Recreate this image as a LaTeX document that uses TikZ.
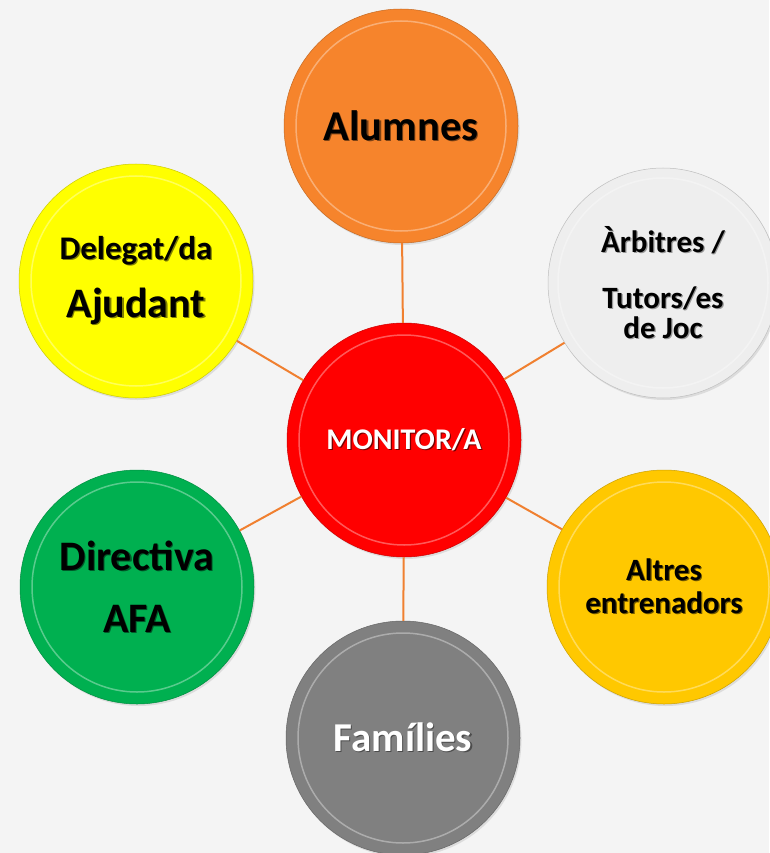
\documentclass[tikz,border=0pt]{standalone}
\usepackage{fontspec}
\setmainfont{Carlito}
\usetikzlibrary{shadows}

\definecolor{bgcol}{HTML}{F4F4F4}
\definecolor{linkcol}{RGB}{240,128,48}
\definecolor{alumcol}{RGB}{246,132,44}
\definecolor{arbcol}{RGB}{238,238,238}
\definecolor{altcol}{RGB}{255,200,0}
\definecolor{famcol}{RGB}{128,128,128}
\definecolor{dircol}{RGB}{0,176,80}
\definecolor{delcol}{RGB}{255,255,0}

% text with a small shadow
\newcommand\shtext[2]{\makebox[0pt][l]{\kern1.2pt\raisebox{-1.4pt}{\textcolor{#1}{#2}}}#2}

\begin{document}
\begin{tikzpicture}[x=1pt,y=-1pt,
    ball/.style={circle, minimum size=234pt, inner sep=0pt, fill=#1,
      draw=#1!80!black, line width=0.5pt, align=center,
      drop shadow={opacity=0.2, shadow xshift=1.5pt, shadow yshift=-2pt},
      path picture={
        \draw[white, opacity=0.35, line width=1.5pt] (path picture bounding box.center) circle (105pt);
      }},
    link/.style={draw=linkcol, line width=2pt}]
  \path[use as bounding box, fill=bgcol] (0,0) rectangle (769,853);

  % centre
  \node[ball=red, text=white, font=\bfseries\fontsize{30}{34}\selectfont] (monitor) at (404,440)
    {\shtext{red!45!black}{MONITOR/A}};

  % around
  \node[ball=alumcol, font=\bfseries\fontsize{42.5}{48}\selectfont] (alumnes) at (401,126)
    {\shtext{alumcol!50!black}{Alumnes}};
  \node[ball=arbcol, minimum size=230pt, font=\bfseries\fontsize{31}{30}\selectfont] (arbitres) at (663,283)
    {\shtext{black!40}{Àrbitres /}\\[26pt]\shtext{black!40}{Tutors/es}\\\shtext{black!40}{de Joc}};
  \node[ball=altcol, font=\bfseries\fontsize{31}{33}\selectfont] (altres) at (664,587)
    {\shtext{altcol!45!black}{Altres}\\\shtext{altcol!45!black}{entrenadors}};
  \node[ball=famcol, text=white, font=\bfseries\fontsize{41}{46}\selectfont] (families) at (403,738)
    {\shtext{black!70}{Famílies}};
  \node[ball=dircol, font=\bfseries\fontsize{42}{62}\selectfont] (directiva) at (137,587)
    {\shtext{dircol!50!black}{Directiva}\\\shtext{dircol!50!black}{AFA}};
  \node[ball=delcol, font=\bfseries\fontsize{33}{58}\selectfont] (delegat) at (136,281)
    {\shtext{delcol!50!black}{Delegat/da}\\{\fontsize{42}{58}\selectfont\shtext{delcol!50!black}{Ajudant}}};

  \foreach \n in {alumnes,arbitres,altres,families,directiva,delegat}
    \draw[link] (monitor) -- (\n);
\end{tikzpicture}
\end{document}
